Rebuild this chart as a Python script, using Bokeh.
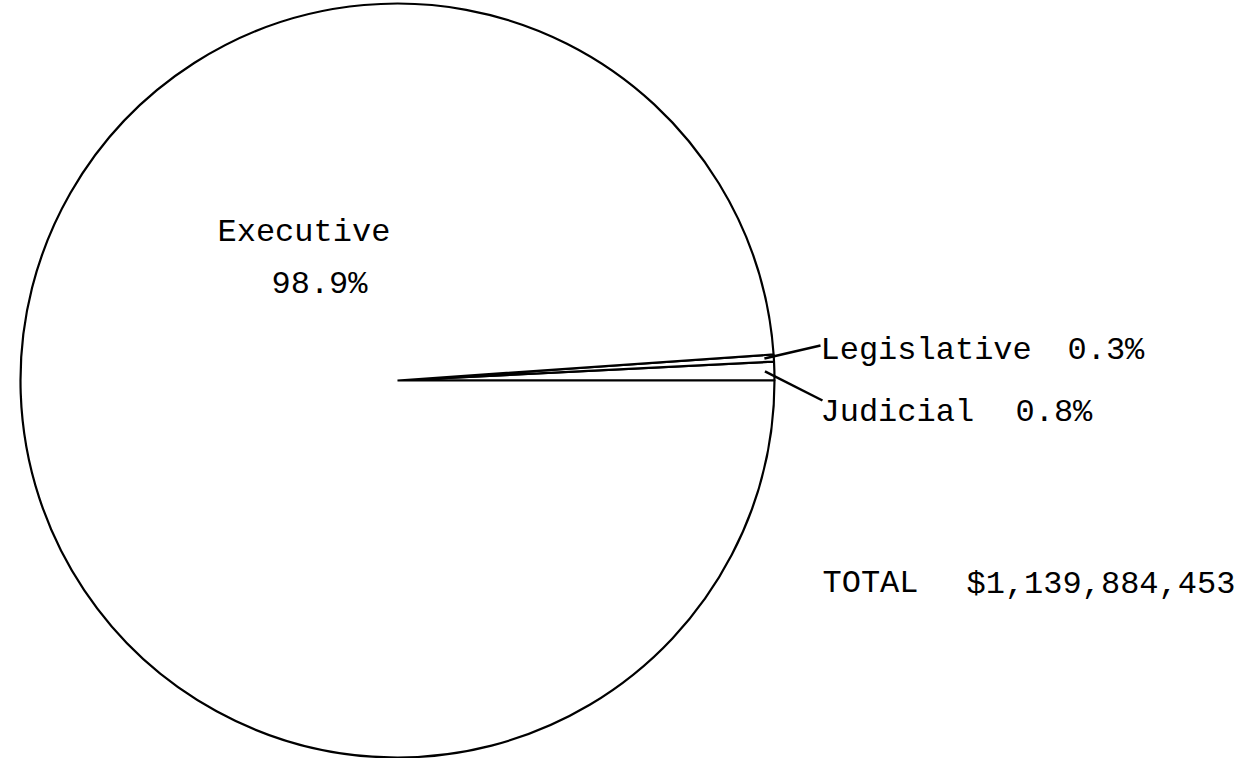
import math
from bokeh.plotting import figure
from bokeh.models import Range1d, ColumnDataSource
from bokeh.core.properties import value
from bokeh.embed import file_html
from bokeh.resources import INLINE

# ---- data ----
branches = ["Judicial", "Legislative", "Executive"]
shares = [0.8, 0.3, 98.9]
total_label = "TOTAL"
total_amount = "$1,139,884,453"

# ---- layout (picture pixel coords) ----
W, H = 1238, 758
REF_H = 774
cx, cy_pic, R = 397, 380, 377
cy = REF_H - cy_pic

p = figure(width=W, height=H, output_backend="svg", toolbar_location=None,
           x_range=Range1d(0, W), y_range=Range1d(REF_H - H, REF_H),
           min_border=0, outline_line_color=None)
p.axis.visible = False
p.grid.visible = False
p.background_fill_color = "white"
p.border_fill_color = "white"

# wedges (counter-clockwise from 3 o'clock)
starts, ends = [], []
acc = 0.0
for s in shares:
    starts.append(2 * math.pi * acc / 100.0)
    acc += s
    ends.append(2 * math.pi * acc / 100.0)
src = ColumnDataSource(dict(start=starts, end=ends, name=branches))
p.wedge(x=cx, y=cy, radius=R, start_angle="start", end_angle="end", source=src,
        fill_color="white", line_color="black", line_width=2.2)

font = value("Liberation Mono")
fs = "32px"
lead_end = {"Legislative": (820, REF_H - 345), "Judicial": (822, REF_H - 400)}
name_pos = {"Legislative": (820, REF_H - 350), "Judicial": (820, REF_H - 412)}
pct_x = {"Legislative": 1067, "Judicial": 1015}

x0s, y0s, x1s, y1s = [], [], [], []
tx, ty, tt = [], [], []
for name, s, a0, a1 in zip(branches, shares, starts, ends):
    if name in lead_end:
        mid = (a0 + a1) / 2
        x0s.append(cx + 0.975 * R * math.cos(mid))
        y0s.append(cy + 0.975 * R * math.sin(mid))
        x1s.append(lead_end[name][0])
        y1s.append(lead_end[name][1])
        tx += [name_pos[name][0], pct_x[name]]
        ty += [name_pos[name][1], name_pos[name][1]]
        tt += [name, f"{s}%"]
p.segment(x0=x0s, y0=y0s, x1=x1s, y1=y1s, line_color="black", line_width=2.5)

# Executive labels
tx += [217, 271]
ty += [REF_H - 232, REF_H - 284]
tt += [branches[2], f"{shares[2]}%"]
# total
tx += [822, 966]
ty += [REF_H - 583, REF_H - 584]
tt += [total_label, total_amount]

p.text(x=tx, y=ty, text=tt, text_font=font, text_font_size=fs,
       text_color="black", text_baseline="alphabetic", text_align="left")

open("out.html", "w").write(file_html(p, INLINE))
